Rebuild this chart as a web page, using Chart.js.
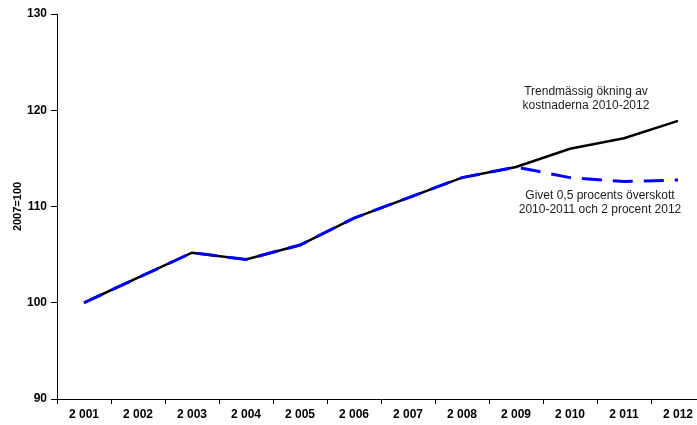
<!DOCTYPE html>
<html>
<head>
<meta charset="utf-8">
<script src="https://cdn.jsdelivr.net/npm/chart.js@4"></script>
<style>
  html, body { margin: 0; padding: 0; background: #fff; overflow: hidden; }
  #wrap { width: 712px; height: 425px; }
</style>
</head>
<body>
<div id="wrap"><canvas id="chart" width="712" height="425"></canvas></div>
<script>
const years = ["2 001", "2 002", "2 003", "2 004", "2 005", "2 006", "2 007", "2 008", "2 009", "2 010", "2 011", "2 012"];
const trendCosts = [100, 102.6, 105.2, 104.5, 106.0, 108.8, 110.9, 113.0, 114.1, 116.0, 117.1, 118.9];
const surplusCosts = [100, 102.6, 105.2, 104.5, 106.0, 108.8, 110.9, 113.0, 114.1, 113.0, 112.6, 112.75];
const yTicks = [90, 100, 110, 120, 130];

const trendNote = ["Trendmässig ökning av", "kostnaderna 2010-2012"];
const surplusNote = ["Givet 0,5 procents överskott", "2010-2011 och 2 procent 2012"];

// draws the two text notes next to the lines
const notes = {
  id: "notes",
  afterDraw(chart) {
    const ctx = chart.ctx;
    ctx.save();
    ctx.font = "12px 'Liberation Sans', Arial, sans-serif";
    ctx.fillStyle = "#222";
    ctx.textAlign = "center";
    ctx.textBaseline = "middle";
    trendNote.forEach((t, i) => ctx.fillText(t, 586, 92 + i * 13.5));
    surplusNote.forEach((t, i) => ctx.fillText(t, 600, 196 + i * 13.5));
    ctx.restore();
  }
};

const tickFont = { family: "'Liberation Sans', Arial, sans-serif", size: 12, weight: "bold" };

new Chart(document.getElementById("chart"), {
  type: "line",
  data: {
    labels: years,
    datasets: [
      {
        label: "Givet överskott",
        data: surplusCosts,
        borderColor: "#0000ff",
        borderWidth: 3,
        borderDash: [20, 11],
        pointRadius: 0,
        tension: 0,
        fill: false
      },
      {
        label: "Trendmässig ökning",
        data: trendCosts,
        borderColor: "#000",
        borderWidth: 2.5,
        pointRadius: 0,
        tension: 0,
        fill: false
      }
    ]
  },
  options: {
    responsive: false,
    animation: false,
    layout: { padding: { top: 14, right: 7, left: 0, bottom: 0 } },
    plugins: {
      legend: { display: false },
      tooltip: { enabled: false }
    },
    scales: {
      x: {
        offset: true,
        border: { color: "#000", width: 1 },
        grid: { offset: true, drawOnChartArea: false, tickLength: 5, color: "#000" },
        ticks: { color: "#000", font: tickFont, padding: 3, maxRotation: 0, autoSkip: false },
        afterFit(scale) { scale.height = 26; }
      },
      y: {
        min: 90,
        max: 130,
        afterBuildTicks(scale) { scale.ticks = yTicks.map(v => ({ value: v })); },
        border: { color: "#000", width: 1 },
        grid: { drawOnChartArea: false, tickLength: 6, color: "#000" },
        ticks: { color: "#000", font: tickFont, padding: 4 },
        title: {
          display: true,
          text: "2007=100",
          color: "#000",
          font: { family: "'Liberation Sans', Arial, sans-serif", size: 11, weight: "bold" },
          padding: { top: 11, bottom: 0 }
        },
        afterFit(scale) { scale.width = 57; }
      }
    }
  },
  plugins: [notes]
});
</script>
</body>
</html>
